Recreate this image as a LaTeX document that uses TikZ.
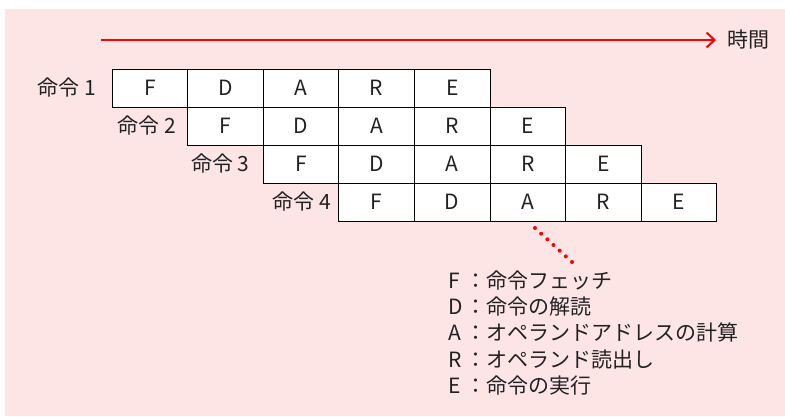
\documentclass[tikz,border=0pt]{standalone}
\usepackage{fontspec}
\setmainfont{Noto Sans CJK JP}
\usetikzlibrary{arrows.meta}
\definecolor{bgpink}{HTML}{FDE5E5}
\definecolor{txt}{HTML}{222222}
\begin{document}
\begin{tikzpicture}[x=1pt,y=-1pt,
  font=\fontsize{21}{26}\selectfont, text=txt,
  cell/.style={draw=black, fill=white, minimum width=75.6pt, minimum height=38pt, inner sep=0pt, line width=0.9pt},
  rowlabel/.style={anchor=east, inner sep=0pt},
  legendline/.style={anchor=base west, inner sep=0pt},
  timearrow/.style={draw=red, line width=2pt, -{Straight Barb[length=8pt,width=15pt,line width=2pt]}},
  pointer/.style={draw=red, line width=4pt, line cap=round, dash pattern=on 0pt off 8.37pt}]
\useasboundingbox (0,0) rectangle (785,416);
\fill[bgpink] (5,9) rectangle (785,416);
% cells
\foreach \r in {0,...,3}{
  \foreach \t [count=\c from 0] in {F,D,A,R,E}{
    \node[cell] (c\r\c) at ({112+75.6*(\r+\c)+37.8},{69+38*\r+19}) {\t};
  }
}
% row labels
\node[rowlabel] (lab1) at ([xshift=-15pt]c00.west) {命令 1};
\node[rowlabel] (lab2) at ([xshift=-11pt]c10.west) {命令 2};
\node[rowlabel] (lab3) at ([xshift=-13pt]c20.west) {命令 3};
\node[rowlabel] (lab4) at ([xshift=-7pt]c30.west) {命令 4};
% time arrow
\node[anchor=west, inner sep=0pt] (time) at (727,40) {時間};
\coordinate (tstart) at (101,40);
\coordinate (tend) at (716,40);
\draw[timearrow] (tstart) -- (tend);
% dotted pointer
\coordinate (p1) at (535,228);
\coordinate (p2) at (572,262);
\draw[pointer] (p1) -- (p2);
% legend
\node[legendline] (leg1) at (448,288.3) {\makebox[17pt][l]{F}：命令フェッチ};
\node[legendline] (leg2) at (448,314.6) {\makebox[17pt][l]{D}：命令の解読};
\node[legendline] (leg3) at (448,340.9) {\makebox[17pt][l]{A}：オペランドアドレスの計算};
\node[legendline] (leg4) at (448,367.2) {\makebox[17pt][l]{R}：オペランド読出し};
\node[legendline] (leg5) at (448,393.5) {\makebox[17pt][l]{E}：命令の実行};
\end{tikzpicture}
\end{document}
